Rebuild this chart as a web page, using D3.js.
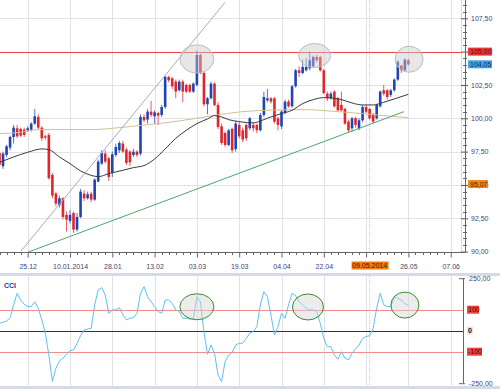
<!DOCTYPE html>
<html>
<head>
<meta charset="utf-8">
<script src="https://cdn.jsdelivr.net/npm/d3@7"></script>
<style>
  body { margin: 0; background: #fff; }
  svg text { font-family: "Liberation Sans", Arial, sans-serif; }
</style>
</head>
<body>
<div id="chart"></div>
<script>
// one entry per trading day, day 0 = 13.12.2013
let opens = [97.4,96.4,97.25,97.8,98.6,99.25,99.2,99.15,99.1,99.15,
  99.6,100.1,99.3,98.65,98.75,95.75,94.35,93.5,94.0,92.75,
  92.3,92.9,91.65,92.6,94.35,94.0,94.35,93.9,95.25,96.6,
  97.35,97.0,95.9,97.25,97.6,98.1,97.65,97.5,97.25,97.5,
  97.35,100.1,99.9,100.5,100.15,100.4,100.25,100.85,103.1,103.0,
  102.75,102.1,102.75,102.5,102.5,102.0,102.5,104.75,103.4,101.05,
  101.5,102.6,101.0,99.4,98.9,98.0,99.2,97.7,99.5,99.1,
  99.5,99.25,99.5,99.5,99.1,100.25,101.35,101.5,101.5,100.0,
  99.4,100.4,101.25,100.9,102.4,103.6,103.4,103.6,103.75,103.9,
  104.6,104.6,103.6,101.85,101.5,102.0,101.5,101.0,100.7,99.75,
  99.25,100.0,99.25,99.85,100.85,100.7,100.25,100.0,100.9,102.1,
  102.1,101.75,102.1,102.9,103.95,103.6,104.35];
let highs = [97.6,97.5,98.0,98.7,99.5,99.5,99.3,99.3,99.4,99.7,
  100.7,100.3,99.4,98.75,98.9,95.9,94.5,94.2,94.1,93.0,
  93.1,93.0,92.9,94.7,94.6,94.5,94.5,95.5,96.9,97.6,
  97.6,97.1,97.5,98.1,98.3,98.3,97.8,97.6,97.7,97.6,
  100.3,100.3,100.7,101.3,100.6,100.5,101.0,103.2,103.2,103.1,
  102.9,102.9,102.9,102.6,102.6,102.7,105.1,104.85,103.5,101.6,
  102.75,102.7,101.2,99.6,99.0,99.2,99.3,99.8,99.7,99.3,
  99.6,100.1,99.7,99.6,100.4,102.0,102.2,101.6,101.6,100.1,
  100.6,101.4,101.4,102.5,103.7,103.9,104.4,104.5,105.0,104.7,
  104.75,104.7,103.7,102.0,102.0,102.1,101.6,102.0,100.8,99.9,
  100.1,100.1,100.0,101.0,101.0,100.8,100.4,101.1,102.1,102.5,
  102.2,102.2,103.0,104.35,104.0,104.5,104.45];
let lows = [96.3,96.2,97.1,97.6,98.1,98.5,98.6,98.6,99.0,99.0,
  99.5,99.2,98.3,98.4,95.4,94.0,93.4,93.3,92.4,91.5,
  92.1,91.4,91.5,92.5,93.8,93.9,93.7,93.8,95.2,96.5,
  96.6,95.3,95.6,97.1,97.4,97.4,96.5,96.4,97.1,97.1,
  97.2,99.7,99.6,100.1,99.6,99.5,100.1,100.7,102.7,102.2,
  101.5,102.0,101.2,101.9,101.9,101.9,102.4,103.3,100.9,100.3,
  101.4,100.9,99.2,98.0,97.85,97.9,97.4,97.5,98.5,98.2,
  98.3,99.1,99.0,98.9,99.0,100.1,101.2,101.1,99.6,99.1,
  99.2,100.3,100.8,100.8,102.3,103.1,103.3,103.5,103.6,103.8,
  104.2,103.5,101.8,101.3,101.4,100.8,100.5,100.5,99.5,98.9,
  99.0,99.3,99.1,99.7,100.4,99.9,99.6,99.9,100.8,101.7,
  101.4,101.6,102.0,102.8,103.4,103.5,103.95];
let closes = [96.5,97.35,97.9,98.6,99.3,98.65,98.7,98.75,99.25,99.6,
  100.15,99.3,98.5,98.55,95.5,94.2,93.6,94.0,92.6,92.4,
  92.75,91.65,92.6,94.5,94.0,94.3,93.9,95.4,96.75,97.4,
  96.75,95.6,97.3,97.85,98.15,97.5,96.65,96.7,97.5,97.25,
  100.1,99.85,100.5,100.25,100.45,100.2,100.85,103.1,102.85,102.4,
  102.0,102.75,102.0,102.0,102.0,102.6,104.75,103.4,101.05,101.5,
  102.6,101.0,99.35,98.15,98.0,99.1,97.6,99.6,98.65,98.4,
  98.5,100.0,99.25,99.1,100.25,101.6,101.5,101.25,99.75,99.5,
  100.5,101.25,100.9,102.4,103.6,103.4,103.85,103.85,104.35,104.6,
  104.35,103.6,101.9,101.5,101.85,100.9,100.6,100.6,99.6,99.1,
  100.0,99.5,99.85,100.85,100.5,100.0,99.75,101.0,102.0,101.85,
  101.6,102.1,102.9,104.25,103.6,104.4,104.05];

// moving averages, read at sample days
let fastMaDays = [0,4,8,12,14,17,20,23,26,28,31,35,38,41,44,47,50,53,56,59,61,63,65,68,72,74,77,80,83,86,89,92,95,97,100,103,106,109,112,116];
let fastMaValues = [96.7,97.1,97.45,97.7,97.65,97.1,96.6,96.05,95.72,95.62,95.85,96.1,96.3,96.45,96.95,97.7,98.5,99.1,99.6,99.95,100.2,100.1,99.9,99.75,99.65,99.8,100.1,100.35,100.6,101.1,101.4,101.55,101.5,101.4,101.15,101.0,101.0,101.2,101.45,101.8];
let slowMaDays = [0,6,11,17,26,34,43,51,57,63,69,78,86,96,105,111,116];
let slowMaValues = [98.85,98.95,99.15,99.15,99.15,99.3,99.55,99.8,100.05,100.3,100.5,100.62,100.65,100.5,100.3,100.15,100.05];

// CCI, one value per trading day
let cciValues = [35,40,46,62,123,178,146,126,115,115,
  138,107,51,-12,-116,-242,-179,-144,-131,-112,
  -96,-92,-60,-24,3,8,11,123,194,205,
  170,83,99,99,110,75,51,59,62,83,
  178,210,162,138,115,91,83,146,146,130,
  99,91,59,59,56,59,162,138,-4,-112,
  -68,-108,-211,-242,-147,-116,-103,-68,-60,-60,
  -36,-12,-4,19,123,186,162,75,-20,19,
  83,59,123,178,167,138,123,107,99,99,
  91,35,-36,-76,-76,-116,-136,-100,-131,-139,
  -108,-87,-68,-36,-28,-24,11,107,178,123,
  115,115,162,154,146,130,120];

// axes
let tickDays = [8,20,32,44,56,68,80,92,104,116,128];
let tickLabels = ["25.12","10.01.2014","28.01","13.02","03.03","19.03","04.04","22.04","08.05","26.05","07.06"];
let cursorDay = 105;
let cursorLabel = "09.05.2014";
let priceTicks = [90,92.5,95,97.5,100,102.5,105,107.5];
let cciTicks = [250,-250];
let cciLevels = [100,0,-100];

// levels and drawings
let resistance = 105.00;
let lastPrice = 104.05;
let markedPrice = 95.07;
let upTrend = [[6,90],[64,108.7]];
let supportTrend = [[8.2,89.97],[114.75,100.5]];
let topDays = [56,89.4,116.2];
let topPrices = [104.45,104.71,104.43];
let cciMarkDays = [56,87.5,115];
let cciMarkValues = [114,113,122];

//layout
let width = 500, height = 389;
let plotRight = 461, axisX = 465, priceBottom = 252;
let cciTop = 276, cciBottom = 386, cciAxisX = 463;
let labelColor = "#45456f";
let gridColor = "#e2e3ea";
let upColor = "#2144b5", downColor = "#e0262b";

let x = d3.scaleLinear().domain([0,116]).range([-0.5,408.4]);
let y = d3.scaleLinear().domain([90,107.5]).range([251.6,18.3]);
let yCci = d3.scaleLinear().domain([-250,250]).range([383.2,278.2]);

let locale = d3.formatLocale({decimal: ",", thousands: ".", grouping: [3], currency: ["",""], minus: "-"});
let fmt = locale.format(".2f");
let crisp = function(v) { return Math.round(v) + 0.5; };

let svg = d3.select("#chart")
  .append("svg")
  .attr("width", width)
  .attr("height", height);

let defs = svg.append("defs");
defs.append("clipPath").attr("id","clipPrice")
  .append("rect").attr("x",0).attr("y",0).attr("width",plotRight).attr("height",priceBottom);
defs.append("clipPath").attr("id","clipCci")
  .append("rect").attr("x",0).attr("y",cciTop).attr("width",plotRight).attr("height",cciBottom-cciTop);

//grid of the price panel
let grid = svg.append("g");
grid.selectAll(".vgrid")
  .data(tickDays)
  .enter()
  .append("line")
  .attr("x1", function(d) { return crisp(x(d)); })
  .attr("x2", function(d) { return crisp(x(d)); })
  .attr("y1", 0)
  .attr("y2", priceBottom)
  .attr("stroke", gridColor);
grid.selectAll(".hgrid")
  .data(priceTicks.filter(function(d) { return d > 90; }))
  .enter()
  .append("line")
  .attr("x1", 0)
  .attr("x2", plotRight)
  .attr("y1", function(d) { return crisp(y(d)); })
  .attr("y2", function(d) { return crisp(y(d)); })
  .attr("stroke", gridColor);
grid.append("line")
  .attr("x1", plotRight + 0.5).attr("x2", plotRight + 0.5)
  .attr("y1", 0).attr("y2", priceBottom)
  .attr("stroke", "#d6d8e0");
grid.append("line")
  .attr("x1", x(cursorDay)).attr("x2", x(cursorDay))
  .attr("y1", 0).attr("y2", priceBottom)
  .attr("stroke", "#c8c8c8")
  .attr("stroke-dasharray", "1,1");

let price = svg.append("g").attr("clip-path", "url(#clipPrice)");

//resistance line
price.append("line")
  .attr("x1", 0).attr("x2", plotRight)
  .attr("y1", crisp(y(resistance))).attr("y2", crisp(y(resistance)))
  .attr("stroke", "#e8454a");

//candles
let days = d3.range(opens.length);
let candleColor = function(i) { return closes[i] >= opens[i] ? upColor : downColor; };

price.selectAll(".wick")
  .data(days)
  .enter()
  .append("line")
  .attr("x1", function(i) { return x(i); })
  .attr("x2", function(i) { return x(i); })
  .attr("y1", function(i) { return y(highs[i]); })
  .attr("y2", function(i) { return y(lows[i]); })
  .attr("stroke", candleColor)
  .attr("stroke-opacity", 0.75);

price.selectAll(".body")
  .data(days)
  .enter()
  .append("rect")
  .attr("x", function(i) { return x(i) - 1.3; })
  .attr("width", 2.6)
  .attr("y", function(i) { return y(Math.max(opens[i], closes[i])); })
  .attr("height", function(i) { return Math.max(1, Math.abs(y(opens[i]) - y(closes[i]))); })
  .attr("fill", candleColor);

//moving averages
let maLine = d3.line()
  .x(function(d) { return x(d[0]); })
  .y(function(d) { return y(d[1]); })
  .curve(d3.curveMonotoneX);

price.append("path")
  .datum(d3.zip(slowMaDays, slowMaValues))
  .attr("d", maLine)
  .attr("fill", "none")
  .attr("stroke", "#cfc196")
  .attr("stroke-width", 1);

price.append("path")
  .datum(d3.zip(fastMaDays, fastMaValues))
  .attr("d", maLine)
  .attr("fill", "none")
  .attr("stroke", "#3a3a3a")
  .attr("stroke-width", 1);

//trend lines
let trendLine = d3.line()
  .x(function(d) { return x(d[0]); })
  .y(function(d) { return y(d[1]); });

price.append("path")
  .datum(upTrend)
  .attr("d", trendLine)
  .attr("stroke", "#a9aab8")
  .attr("fill", "none");

price.append("path")
  .datum(supportTrend)
  .attr("d", trendLine)
  .attr("stroke", "#4aa86a")
  .attr("fill", "none");

//marked tops
price.selectAll(".top")
  .data(topDays)
  .enter()
  .append("ellipse")
  .attr("cx", function(d) { return x(d); })
  .attr("cy", function(d, i) { return y(topPrices[i]); })
  .attr("rx", function(d, i) { return [17, 16, 14][i]; })
  .attr("ry", function(d, i) { return [14, 12, 13][i]; })
  .attr("fill", "#c9c9c9")
  .attr("fill-opacity", 0.45)
  .attr("stroke", "#bcbcbc");

//price axis
let priceAxis = svg.append("g")
  .attr("transform", "translate(" + axisX + ",0)")
  .call(d3.axisRight(y).tickValues(priceTicks).tickFormat(fmt).tickSize(3).tickPadding(3).tickSizeOuter(0));
priceAxis.select(".domain").remove();
priceAxis.selectAll(".tick line").attr("x1", -4).attr("stroke", "#555");
priceAxis.selectAll(".tick text")
  .attr("font-size", 7)
  .attr("font-family", "Liberation Sans, Arial, sans-serif")
  .attr("fill", labelColor);

svg.append("line")
  .attr("x1", axisX + 0.5).attr("x2", axisX + 0.5)
  .attr("y1", 0).attr("y2", priceBottom)
  .attr("stroke", "#666");

svg.append("g")
  .selectAll("line")
  .data(d3.range(90, 108.6, 0.5).filter(function(d) { return priceTicks.indexOf(d) < 0; }))
  .enter()
  .append("line")
  .attr("x1", axisX - 2).attr("x2", axisX + 2)
  .attr("y1", function(d) { return crisp(y(d)); })
  .attr("y2", function(d) { return crisp(y(d)); })
  .attr("stroke", "#666");

//price tags on the axis
function priceTag(v, bg, fg, w) {
  svg.append("rect")
    .attr("x", axisX + 3)
    .attr("y", y(v) - 4)
    .attr("width", w)
    .attr("height", 8)
    .attr("fill", bg);
  svg.append("text")
    .attr("x", axisX + 5)
    .attr("y", y(v) + 2.5)
    .attr("font-size", 7)
    .attr("fill", fg)
    .text(fmt(v));
}
priceTag(resistance, "#e53a3a", "#5e0a0a", 24);
priceTag(lastPrice, "#3aa6e6", "#13305e", 24);
priceTag(markedPrice, "#f08a1a", "#4a2400", 20);

//date axis
let timeAxis = svg.append("g")
  .attr("transform", "translate(0," + (priceBottom + 0.5) + ")")
  .call(d3.axisBottom(x)
    .tickValues(tickDays)
    .tickFormat(function(d, i) { return d === cursorDay - 1 ? "" : tickLabels[i]; })
    .tickSize(5)
    .tickPadding(7)
    .tickSizeOuter(0));
timeAxis.select(".domain").remove();
timeAxis.selectAll(".tick line").attr("stroke", "#666");
timeAxis.selectAll(".tick text")
  .attr("font-size", 7)
  .attr("font-family", "Liberation Sans, Arial, sans-serif")
  .attr("fill", labelColor);

svg.append("line")
  .attr("x1", 0).attr("x2", axisX)
  .attr("y1", priceBottom + 0.5).attr("y2", priceBottom + 0.5)
  .attr("stroke", "#666");

svg.append("g")
  .selectAll("line")
  .data(d3.range(0, 130, 2).filter(function(d) { return tickDays.indexOf(d) < 0; }))
  .enter()
  .append("line")
  .attr("x1", function(d) { return crisp(x(d)); })
  .attr("x2", function(d) { return crisp(x(d)); })
  .attr("y1", priceBottom)
  .attr("y2", priceBottom + 3)
  .attr("stroke", "#666");

//cursor date
svg.append("rect")
  .attr("x", x(cursorDay) - 18)
  .attr("y", 261.5)
  .attr("width", 37)
  .attr("height", 8)
  .attr("fill", "#f07c12");
svg.append("text")
  .attr("x", x(cursorDay))
  .attr("y", 268)
  .attr("text-anchor", "middle")
  .attr("font-size", 7)
  .attr("fill", "#3a1a00")
  .text(cursorLabel);

//panel borders
svg.append("rect").attr("x", 0).attr("y", 273).attr("width", width).attr("height", 3).attr("fill", "#d5dbe4");
svg.append("rect").attr("x", 0).attr("y", cciBottom).attr("width", width).attr("height", height - cciBottom).attr("fill", "#d5dbe4");

//CCI panel
let cciGrid = svg.append("g");
cciGrid.selectAll("line")
  .data(tickDays)
  .enter()
  .append("line")
  .attr("x1", function(d) { return crisp(x(d)); })
  .attr("x2", function(d) { return crisp(x(d)); })
  .attr("y1", cciTop)
  .attr("y2", cciBottom)
  .attr("stroke", gridColor);
cciGrid.append("line")
  .attr("x1", x(cursorDay)).attr("x2", x(cursorDay))
  .attr("y1", cciTop).attr("y2", cciBottom)
  .attr("stroke", "#c8c8c8")
  .attr("stroke-dasharray", "1,1");

svg.append("g")
  .selectAll("line")
  .data(cciLevels)
  .enter()
  .append("line")
  .attr("x1", 0)
  .attr("x2", cciAxisX)
  .attr("y1", function(d) { return crisp(yCci(d)); })
  .attr("y2", function(d) { return crisp(yCci(d)); })
  .attr("stroke", function(d) { return d === 0 ? "#333" : "#f08c8c"; });

let cci = svg.append("g").attr("clip-path", "url(#clipCci)");

cci.append("path")
  .datum(cciValues)
  .attr("d", d3.line()
    .x(function(d, i) { return x(i); })
    .y(function(d) { return yCci(d); }))
  .attr("fill", "none")
  .attr("stroke", "#5cc3ef")
  .attr("stroke-width", 1);

cci.selectAll("ellipse")
  .data(cciMarkDays)
  .enter()
  .append("ellipse")
  .attr("cx", function(d) { return x(d); })
  .attr("cy", function(d, i) { return yCci(cciMarkValues[i]); })
  .attr("rx", function(d, i) { return [17, 15.5, 14][i]; })
  .attr("ry", 13)
  .attr("fill", "#d4d4d4")
  .attr("fill-opacity", 0.45)
  .attr("stroke", "#3d8a2e");

svg.append("text")
  .attr("x", 4)
  .attr("y", 288)
  .attr("font-size", 7)
  .attr("font-weight", "bold")
  .attr("fill", "#2a3aa8")
  .text("CCI");

//CCI axis
svg.append("line")
  .attr("x1", cciAxisX + 0.5).attr("x2", cciAxisX + 0.5)
  .attr("y1", yCci(250)).attr("y2", yCci(-250))
  .attr("stroke", "#666");
let cciAxis = svg.append("g")
  .attr("transform", "translate(" + cciAxisX + ",0)")
  .call(d3.axisRight(yCci).tickValues(cciTicks).tickFormat(fmt).tickSize(2).tickPadding(4).tickSizeOuter(0));
cciAxis.select(".domain").remove();
cciAxis.selectAll(".tick line").attr("x1", -4).attr("stroke", "#666");
cciAxis.selectAll(".tick text")
  .attr("font-size", 7)
  .attr("font-family", "Liberation Sans, Arial, sans-serif")
  .attr("fill", labelColor);

svg.append("g")
  .selectAll("rect")
  .data(cciLevels)
  .enter()
  .append("rect")
  .attr("x", cciAxisX + 4)
  .attr("y", function(d) { return yCci(d) - 4; })
  .attr("width", function(d) { return d === 0 ? 6 : (d < 0 ? 15 : 12); })
  .attr("height", 8)
  .attr("fill", function(d) { return d === 0 ? "#e6e6e6" : "#e84545"; });

svg.append("g")
  .selectAll("text")
  .data(cciLevels)
  .enter()
  .append("text")
  .attr("x", cciAxisX + 5)
  .attr("y", function(d) { return yCci(d) + 2.5; })
  .attr("font-size", 7)
  .attr("font-weight", function(d) { return d === 0 ? "bold" : "normal"; })
  .attr("fill", function(d) { return d === 0 ? "#111" : "#4a0000"; })
  .text(function(d) { return d; });
</script>
</body>
</html>
